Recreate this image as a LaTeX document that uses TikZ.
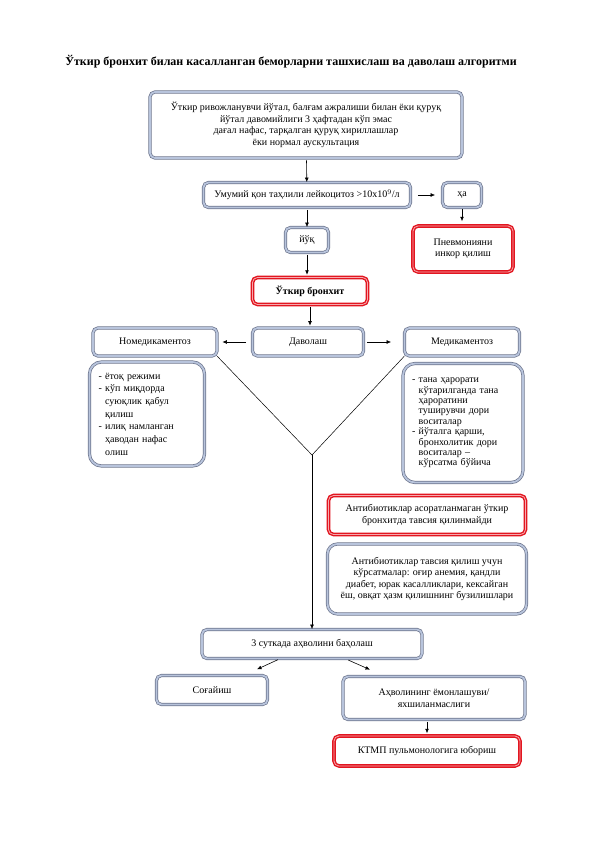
\documentclass[tikz,border=0pt]{standalone}
\usepackage{fontspec}
\setmainfont{Liberation Serif}
\usetikzlibrary{arrows.meta,positioning,calc}
\definecolor{boxline}{RGB}{108,116,140}
\definecolor{boxfill}{RGB}{184,196,220}
\definecolor{alertred}{RGB}{226,22,32}
\definecolor{alertfill}{RGB}{246,170,175}
\newcommand{\hang}{\phantom{- }}

\begin{document}
\begin{tikzpicture}[x=1pt,y=-1pt,font=\fontsize{10}{11.5}\selectfont,
  >={Latex[length=4.5pt,width=3.8pt]},
  bx/.style={draw=boxline,double=boxfill,double distance=1.8pt,line width=0.7pt,
             rounded corners=5pt,align=center,inner sep=2pt,fill=white},
  alert/.style={draw=alertred,double=alertfill,double distance=0.8pt,line width=1.4pt,
                rounded corners=5pt,align=center,inner sep=2pt,fill=white},
  lst/.style={bx,rounded corners=12pt,align=left,inner xsep=9pt},
  fl/.style={->,line width=0.6pt,black},
  ln/.style={line width=0.5pt,black}]
\useasboundingbox (0,0) rectangle (596,843);
% ---------------- title
\node[font=\fontsize{12}{14}\selectfont\bfseries] (title) at (291,62)
  {Ўткир бронхит билан касалланган беморларни ташхислаш ва даволаш алгоритми};
% ---------------- diagnosis
\node[bx,minimum width=312pt,minimum height=66pt] (symp) at (306,125)
  {Ўткир ривожланувчи йўтал, балғам ажралиши билан ёки қуруқ\\
   йўтал давомийлиги 3 ҳафтадан кўп эмас\\
   дағал нафас, тарқалган қуруқ хириллашлар\\
   ёки нормал аускультация};
\node[bx,minimum width=207pt,minimum height=25pt] (blood) at (307,195)
  {Умумий қон таҳлили лейкоцитоз >10х10$^9$/л};
\node[bx,minimum width=39pt,minimum height=25pt] (yes) at (462,195) {ҳа};
\node[alert,minimum width=100pt,minimum height=46pt] (pneu) at (463,249)
  {Пневмонияни\\инкор қилиш};
\node[bx,minimum width=43pt,minimum height=25pt] (no) at (307,240) {йўқ};
\node[alert,minimum width=115pt,minimum height=27pt,font=\fontsize{10}{11.5}\selectfont\bfseries]
  (bronch) at (310,291) {Ўткир бронхит};
\draw[fl,shorten <=2pt] (symp) -- (blood);
\draw[fl,shorten <=7pt,shorten >=7pt] (blood) -- (yes);
\draw[fl,shorten <=1pt,shorten >=4pt] (yes.south) -- (yes.south |- pneu.north);
\draw[fl,shorten <=2pt] (blood.south) -- (no.north);
\draw[fl,shorten <=2pt,shorten >=2pt] (no.south) -- (no.south |- bronch.north);
% ---------------- treatment
\node[bx,minimum width=111pt,minimum height=28pt] (treat) at (308,342) {Даволаш};
\node[bx,minimum width=124pt,minimum height=28pt] (nomed) at (155,342) {Номедикаментоз};
\node[bx,minimum width=115pt,minimum height=28pt] (med) at (462,342) {Медикаментоз};
\draw[fl,shorten <=2pt,shorten >=2pt] (bronch.south) -- (bronch.south |- treat.north);
\draw[fl,shorten <=6pt,shorten >=5pt] (treat) -- (nomed);
\draw[fl,shorten <=3pt,shorten >=13pt] (treat) -- (med);
\coordinate (jn) at (312,455);
\draw[ln] (nomed.south east) -- (jn);
\draw[ln] (med.south west) -- (jn);
\node[lst,font=\fontsize{10}{12.7}\selectfont,text width=97pt,minimum height=104pt]
  (nomedlist) at (147,414)
  {- ётоқ режими\\
   - кўп миқдорда\\
   \hang суюқлик қабул\\
   \hang қилиш\\
   - илиқ намланган\\
   \hang ҳаводан нафас\\
   \hang олиш};
\node[lst,font=\fontsize{10}{10.4}\selectfont,text width=102pt,minimum height=119pt]
  (medlist) at (463,423)
  {- тана ҳарорати\\
   \hang кўтарилганда тана\\
   \hang ҳароратини\\
   \hang туширувчи дори\\
   \hang воситалар\\
   - йўталга қарши,\\
   \hang бронхолитик дори\\
   \hang воситалар –\\
   \hang кўрсатма бўйича};
% ---------------- antibiotics
\node[alert,minimum width=197pt,minimum height=39pt] (antineg) at (427,515)
  {Антибиотиклар асоратланмаган ўткир\\бронхитда тавсия қилинмайди};
\node[bx,rounded corners=10pt,minimum width=199pt,minimum height=70pt] (antipos) at (427,579)
  {Антибиотиклар тавсия қилиш учун\\
   кўрсатмалар: оғир анемия, қандли\\
   диабет, юрак касалликлари, кексайган\\
   ёш, овқат ҳазм қилишнинг бузилишлари};
% ---------------- follow-up
\node[bx,minimum width=220pt,minimum height=29pt] (eval) at (312,644)
  {3 суткада аҳволини баҳолаш};
\node[bx,minimum width=111pt,minimum height=29pt] (recov) at (212,690) {Соғайиш};
\node[bx,minimum width=182pt,minimum height=43pt] (worse) at (434,698)
  {Аҳволининг ёмонлашуви/\\яхшиланмаслиги};
\node[alert,minimum width=186pt,minimum height=30pt] (ktmp) at (427,751)
  {КТМП пульмонологига юбориш};
\draw[fl] (jn) -- (jn |- eval.north);
\draw[fl,shorten <=2pt,shorten >=14pt] (eval) -- (recov);
\draw[fl,shorten <=3pt,shorten >=16pt] (eval) -- (worse);
\draw[fl,shorten <=2pt,shorten >=2pt] (worse.south -| ktmp.north) -- (ktmp.north);
\end{tikzpicture}
\end{document}
